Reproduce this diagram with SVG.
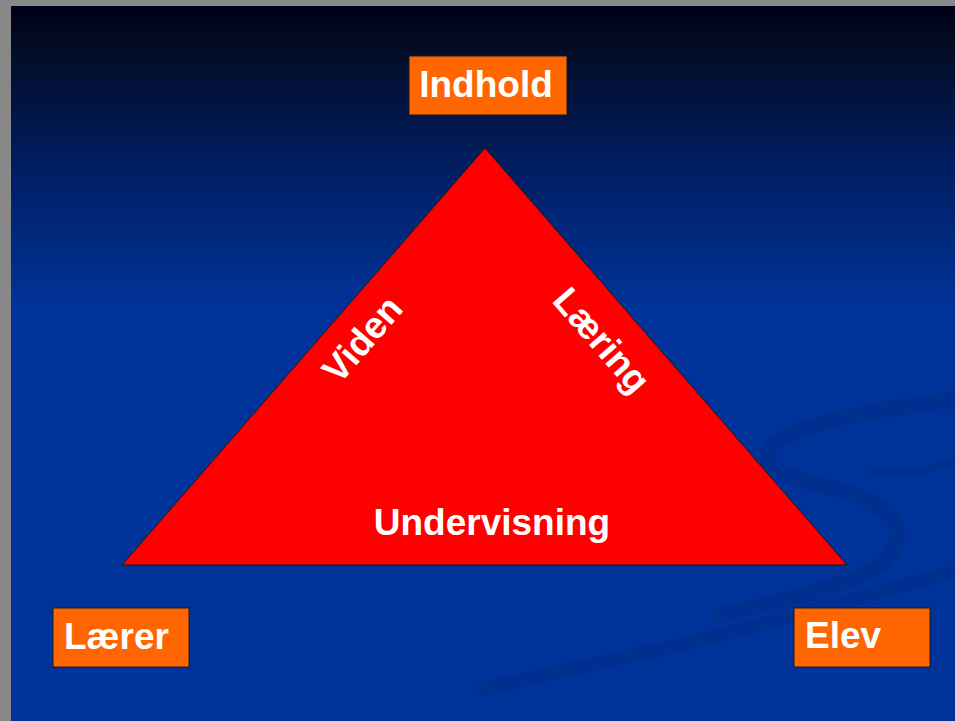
<svg xmlns="http://www.w3.org/2000/svg" width="955" height="721" viewBox="0 0 955 721">
<defs>
<linearGradient id="bg" x1="0" y1="0" x2="0" y2="1" gradientUnits="objectBoundingBox">
<stop offset="0" stop-color="#000018"/>
<stop offset="0.06" stop-color="#020d26"/>
<stop offset="0.22" stop-color="#001d60"/>
<stop offset="0.42" stop-color="#003399"/>
<stop offset="1" stop-color="#003399"/>
</linearGradient>
<style>
.box{fill:#ff6600;stroke:#1a1a1a;stroke-width:1}
.lbl{font-family:"Liberation Sans",Arial,sans-serif;font-weight:bold;font-size:37px;fill:#ffffff}
.swirl{fill:none;stroke:#00308f;stroke-linecap:round}
</style>
</defs>
<rect x="0" y="0" width="955" height="721" fill="#888888"/>
<rect x="11" y="6" width="944" height="715" fill="url(#bg)"/>
<g id="background-swirls">
<path class="swirl" stroke-width="16" d="M955,400 C870,410 790,425 770,448 C755,470 800,480 840,490 C890,505 915,530 885,560 C860,585 790,598 720,615"/>
<path class="swirl" stroke-width="14" d="M955,572 C880,590 800,615 700,640 C640,655 560,670 480,690"/>
<path class="swirl" stroke-width="8" d="M955,460 C930,470 900,480 870,470"/>
</g>
<g id="triangle">
<polygon points="485,148 122,565 847,565" fill="#ff0000" stroke="#1a1a1a" stroke-width="1"/>
<text class="lbl" x="492" y="535" text-anchor="middle">Undervisning</text>
<text class="lbl" transform="translate(362,339) rotate(-49)" text-anchor="middle" dy="13">Viden</text>
<text class="lbl" transform="translate(602,340) rotate(49)" text-anchor="middle" dy="13">Læring</text>
</g>
<g id="node-indhold">
<rect class="box" x="409" y="56" width="158" height="59"/>
<text class="lbl" x="486" y="97" text-anchor="middle">Indhold</text>
</g>
<g id="node-laerer">
<rect class="box" x="53" y="608" width="136" height="59"/>
<text class="lbl" x="64" y="649">Lærer</text>
</g>
<g id="node-elev">
<rect class="box" x="794" y="608" width="136" height="59"/>
<text class="lbl" x="805" y="648">Elev</text>
</g>
<g id="connectors"></g>
</svg>
